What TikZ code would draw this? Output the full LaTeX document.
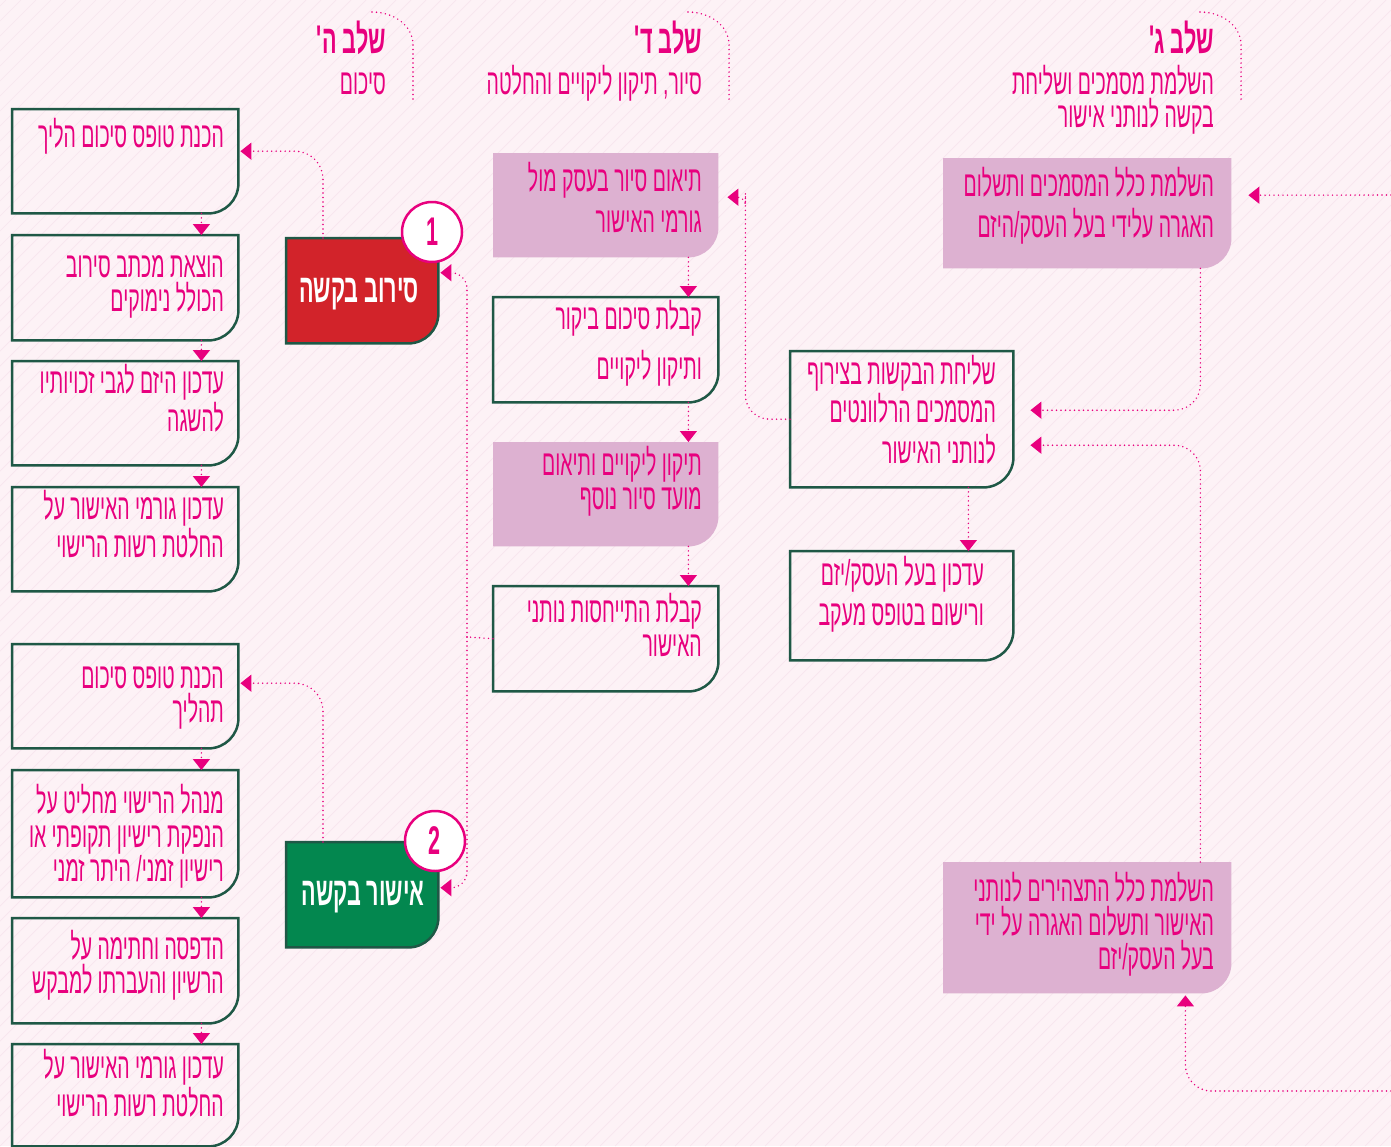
\documentclass[tikz,border=0pt]{standalone}
\usepackage{fontspec}
\usetikzlibrary{arrows.meta,backgrounds}
\newfontfamily\hebfont[Script=Hebrew,FakeStretch=0.54]{Liberation Sans}
\TeXXeTstate=1
\newcommand{\heb}[1]{\beginR #1\endR}
\newcommand{\boxpath}[1]{(#1.north west) -- (#1.north east) -- ([yshift=30pt]#1.south east) arc[start angle=0,end angle=-90,radius=30pt] -- (#1.south west) -- cycle}
\definecolor{bgpink}{HTML}{FDF2F6}
\definecolor{hatch}{HTML}{F8E5EE}
\definecolor{magen}{HTML}{E8007E}
\definecolor{lilac}{HTML}{DDB1D1}
\definecolor{boxgreen}{HTML}{1F5846}
\definecolor{refred}{HTML}{D2232A}
\definecolor{okgreen}{HTML}{03874F}
\begin{document}
\begin{tikzpicture}[x=1pt,y=-1pt,
  cell/.style={anchor=north west,inner sep=0pt},
  boxtext/.style={anchor=base east,align=right,inner sep=0pt,text=magen,font=\hebfont\fontsize{36}{34}\selectfont},
  headtext/.style={boxtext,font=\hebfont\bfseries\fontsize{40}{34}\selectfont},
  dots/.style={magen,line width=1.6pt,dash pattern=on 0pt off 4.5pt,line cap=round},
  flow/.style={dots,-{Triangle[width=17pt,length=11pt]}},
  badge/.style={circle,draw=magen,line width=2.5pt,fill=white,minimum size=60pt,inner sep=0pt,text=magen,font=\hebfont\bfseries\fontsize{40}{40}\selectfont}]
\useasboundingbox (0,0) rectangle (1391,1146);
\begin{scope}[on background layer]
\fill[bgpink] (0,0) rectangle (1391,1146);
\clip (0,0) rectangle (1391,1146);
\foreach \i in {-1140,-1125,...,1390} % hatch lines
\draw[hatch,line width=0.7pt] (\i,1146) -- ++(1146,-1146);
\end{scope}
% stage headings (multi-line texts sit on their last baseline)
\node[headtext] (h5) at (386,53) {\heb{שלב ה'}};
\node[boxtext] (h5s) at (386,94) {\heb{סיכום}};
\node[headtext] (h4) at (702,53) {\heb{שלב ד'}};
\node[boxtext] (h4s) at (702,94) {\heb{סיור, תיקון ליקויים והחלטה}};
\node[headtext] (h3) at (1214,53) {\heb{שלב ג'}};
\node[boxtext] (h3s) at (1214,127) {\heb{השלמת מסמכים ושליחת}\\[-1pt]\heb{בקשה לנותני אישור}};
\foreach \x in {372,688,1200} % edit here for the heading arcs
\draw[dots] (\x,12) to[out=0,in=90] (\x+41,45) -- (\x+41,100);
% left column
\node[cell,minimum width=226pt,minimum height=104pt] (l1) at (12,109) {};
\node[cell,minimum width=226pt,minimum height=105pt] (l2) at (12,235) {};
\node[cell,minimum width=226pt,minimum height=104pt] (l3) at (12,361) {};
\node[cell,minimum width=226pt,minimum height=104pt] (l4) at (12,487) {};
\node[cell,minimum width=226pt,minimum height=104pt] (l5) at (12,644) {};
\node[cell,minimum width=226pt,minimum height=127pt] (l6) at (12,770) {};
\node[cell,minimum width=226pt,minimum height=105pt] (l7) at (12,918) {};
\node[cell,minimum width=226pt,minimum height=102pt] (l8) at (12,1044) {};
\node[boxtext] (l1t) at (224,147) {\heb{הכנת טופס סיכום הליך}};
\node[boxtext] (l2t) at (224,311) {\heb{הוצאת מכתב סירוב}\\\heb{הכולל נימוקים}};
\node[boxtext] (l3t) at (224,431) {\heb{עדכון היזם לגבי זכויותיו}\\\heb{להשגה}};
\node[boxtext] (l4t) at (224,557) {\heb{עדכון גורמי האישור על}\\\heb{החלטת רשות הרישוי}};
\node[boxtext] (l5t) at (224,722) {\heb{הכנת טופס סיכום}\\\heb{תהליך}};
\node[boxtext] (l6t) at (224,881) {\heb{מנהל הרישוי מחליט על}\\\heb{הנפקת רישיון תקופתי או}\\\heb{רישיון זמני/ היתר זמני}};
\node[boxtext] (l7t) at (224,993) {\heb{הדפסה וחתימה על}\\\heb{הרשיון והעברתו למבקש}};
\node[boxtext] (l8t) at (224,1116) {\heb{עדכון גורמי האישור על}\\\heb{החלטת רשות הרישוי}};
% decision boxes
\node[cell,minimum width=152pt,minimum height=105pt] (sirov) at (286,238) {};
\node[cell,minimum width=152pt,minimum height=105pt] (ishur) at (286,842) {};
\node[headtext,anchor=base,text=white] (sirovt) at (359,302) {\heb{סירוב בקשה}};
\node[headtext,anchor=base,text=white] (ishurt) at (363,905) {\heb{אישור בקשה}};
\node[badge] (c1) at (432,232) {1};
\node[badge] (c2) at (435,841) {2};
% middle column
\node[cell,minimum width=225pt,minimum height=104pt] (m1) at (493,153) {};
\node[cell,minimum width=225pt,minimum height=105pt] (m2) at (493,297) {};
\node[cell,minimum width=225pt,minimum height=104pt] (m3) at (493,442) {};
\node[cell,minimum width=225pt,minimum height=105pt] (m4) at (493,586) {};
\node[boxtext] (m1t) at (702,232) {\heb{תיאום סיור בעסק מול}\\[7pt]\heb{גורמי האישור}};
\node[boxtext] (m2t) at (702,379) {\heb{קבלת סיכום ביקור}\\[12pt]\heb{ותיקון ליקויים}};
\node[boxtext] (m3t) at (702,509) {\heb{תיקון ליקויים ותיאום}\\\heb{מועד סיור נוסף}};
\node[boxtext] (m4t) at (702,656) {\heb{קבלת התייחסות נותני}\\\heb{האישור}};
% right column
\node[cell,minimum width=288pt,minimum height=110pt] (r1) at (943,158) {};
\node[cell,minimum width=223pt,minimum height=136pt] (r2) at (790,351) {};
\node[cell,minimum width=223pt,minimum height=109pt] (r3) at (790,551) {};
\node[cell,minimum width=288pt,minimum height=131pt] (r4) at (943,862) {};
\node[boxtext] (r1t) at (1214,237) {\heb{השלמת כלל המסמכים ותשלום}\\[7pt]\heb{האגרה עלידי בעל העסק/היזם}};
\node[boxtext] (r2t) at (996,463) {\heb{שליחת הבקשות בצירוף}\\\heb{המסמכים הרלוונטים}\\[7pt]\heb{לנותני האישור}};
\node[boxtext] (r3t) at (984,625) {\heb{עדכון בעל העסק/יזם}\\[6pt]\heb{ורישום בטופס מעקב}};
\node[boxtext] (r4t) at (1214,969) {\heb{השלמת כלל התצהירים לנותני}\\\heb{האישור ותשלום האגרה על ידי}\\\heb{בעל העסק/יזם}};
\coordinate (inA) at (1391,195);
\coordinate (inB) at (1391,1091);
\coordinate (split) at (467,637);
% box outlines and fills
\begin{scope}[on background layer]
\foreach \n in {l1,l2,l3,l4,l5,l6,l7,l8,m2,m4,r2,r3}
\draw[boxgreen,line width=2.5pt] \boxpath{\n};
\foreach \n in {m1,m3,r1,r4}
\fill[lilac] \boxpath{\n};
\filldraw[fill=refred,draw=boxgreen,line width=2.5pt] \boxpath{sirov};
\filldraw[fill=okgreen,draw=boxgreen,line width=2.5pt] \boxpath{ishur};
\end{scope}
% straight arrows down the columns
\foreach \a/\b in {l1/l2,l2/l3,l3/l4,l5/l6,l6/l7,l7/l8}
\draw[flow] ([xshift=-37pt]\a.south east) -- ([xshift=-37pt]\b.north east);
\foreach \a/\b in {m1/m2,m2/m3,m3/m4}
\draw[flow] ([xshift=-30pt]\a.south east) -- ([xshift=-30pt]\b.north east);
\draw[flow] ([xshift=-45pt]r2.south east) -- ([xshift=-45pt]r3.north east);
% bent arrows
\draw[flow,rounded corners=28pt] ([xshift=37pt]sirov.north west) |- ([xshift=2pt,yshift=10pt]l1.east);
\draw[flow,rounded corners=28pt] ([xshift=37pt]ishur.north west) |- ([xshift=2pt,yshift=13pt]l5.east);
\draw[dots] (m4.west) -- (split);
\draw[flow,rounded corners=16pt] (split) |- ([xshift=2pt,yshift=18pt]sirov.east);
\draw[flow,rounded corners=16pt] (split) |- ([xshift=2pt,yshift=7pt]ishur.east);
\draw[flow,rounded corners=24pt] (r2.west) -| ([xshift=27pt,yshift=-12pt]m1.east) [rounded corners=8pt] |- ([xshift=9pt,yshift=8pt]m1.east);
\draw[flow,rounded corners=26pt] ([xshift=-31pt]r1.south east) |- ([xshift=17pt,yshift=9pt]r2.east);
\draw[flow,rounded corners=26pt] ([xshift=-31pt]r4.north east) |- ([xshift=17pt,yshift=-26pt]r2.east);
\draw[flow] (inA) -- ([xshift=17pt,yshift=18pt]r1.east);
\draw[flow,rounded corners=26pt] (inB) -| ([xshift=-46pt,yshift=-2pt]r4.south east);
\end{tikzpicture}
\end{document}
